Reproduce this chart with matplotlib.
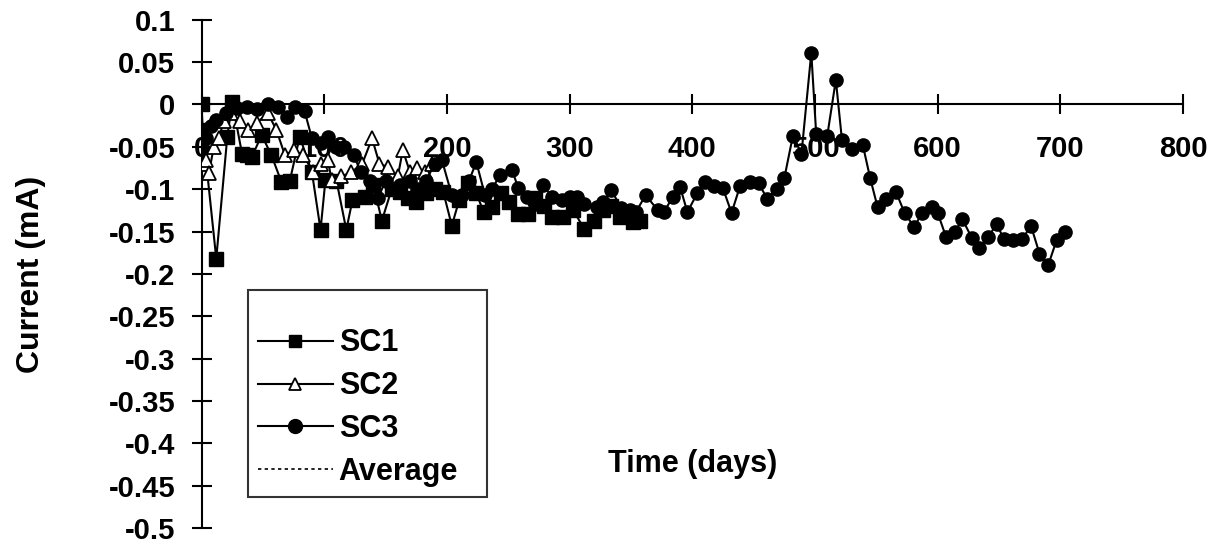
import matplotlib

matplotlib.use("Agg")
import matplotlib.pyplot as plt
from matplotlib.lines import Line2D

# Sensor current readings (mA) against exposure time (days)
SC1_DAYS = [0, 1, 12, 21, 25, 33, 37, 41, 49, 57, 65, 72, 80, 90, 97, 101, 110,
            118, 123, 133, 140, 147, 155, 162, 168, 175, 183, 190, 197, 204, 210,
            217, 224, 230, 237, 244, 251, 258, 266, 272, 279, 286, 295, 303, 312,
            320, 327, 334, 341, 348, 352, 357]
SC1_CURRENT = [0.0, -0.03, -0.182, -0.038, 0.003, -0.058, -0.06, -0.062, -0.036,
               -0.06, -0.091, -0.09, -0.038, -0.08, -0.148, -0.089, -0.09, -0.148,
               -0.113, -0.109, -0.095, -0.137, -0.1, -0.103, -0.11, -0.115, -0.105,
               -0.1, -0.103, -0.143, -0.113, -0.093, -0.105, -0.127, -0.121, -0.105,
               -0.115, -0.129, -0.129, -0.11, -0.12, -0.133, -0.133, -0.125, -0.147,
               -0.137, -0.125, -0.12, -0.133, -0.13, -0.139, -0.137]

SC2_DAYS = [2, 4, 6, 10, 14, 18, 24, 31, 38, 45, 54, 61, 68, 75, 83, 91, 97, 103,
            106, 114, 122, 131, 139, 145, 152, 160, 164, 170, 176, 182, 188]
SC2_CURRENT = [-0.07, -0.066, -0.081, -0.05, -0.04, -0.02, -0.01, -0.02, -0.03,
               -0.022, -0.01, -0.03, -0.06, -0.054, -0.06, -0.08, -0.07, -0.066,
               -0.089, -0.085, -0.08, -0.07, -0.04, -0.07, -0.074, -0.085, -0.054,
               -0.08, -0.075, -0.08, -0.07]

SC3_DAYS = [0, 4, 8, 12, 20, 29, 37, 45, 54, 62, 70, 76, 84, 90, 97, 103, 110,
            116, 124, 130, 137, 144, 150, 156, 162, 170, 176, 183, 190, 196, 204,
            212, 218, 224, 231, 237, 243, 253, 258, 265, 272, 278, 286, 294, 300,
            306, 312, 322, 327, 334, 342, 349, 354, 362, 372, 377, 384, 390, 396,
            404, 410, 418, 425, 432, 439, 447, 454, 461, 469, 475, 482, 489, 497,
            501, 510, 517, 522, 530, 539, 545, 551, 558, 566, 573, 581, 587, 595,
            600, 607, 614, 620, 628, 634, 641, 648, 654, 661, 669, 676, 683, 690,
            697, 704]
SC3_CURRENT = [-0.05, -0.04, -0.025, -0.018, -0.01, -0.004, -0.003, -0.005, 0.0,
               -0.003, -0.015, -0.003, -0.008, -0.04, -0.045, -0.038, -0.05, -0.05,
               -0.06, -0.08, -0.09, -0.11, -0.09, -0.1, -0.095, -0.09, -0.1, -0.09,
               -0.07, -0.066, -0.107, -0.107, -0.09, -0.068, -0.107, -0.1, -0.083,
               -0.077, -0.098, -0.109, -0.118, -0.095, -0.109, -0.113, -0.109,
               -0.109, -0.118, -0.121, -0.115, -0.101, -0.122, -0.125, -0.127,
               -0.107, -0.125, -0.127, -0.109, -0.097, -0.127, -0.105, -0.091,
               -0.096, -0.099, -0.128, -0.096, -0.092, -0.093, -0.111, -0.1, -0.087,
               -0.037, -0.058, 0.061, -0.035, -0.037, 0.029, -0.042, -0.052, -0.048,
               -0.087, -0.121, -0.111, -0.103, -0.128, -0.145, -0.128, -0.121,
               -0.128, -0.157, -0.151, -0.135, -0.158, -0.17, -0.157, -0.141,
               -0.159, -0.16, -0.159, -0.143, -0.176, -0.19, -0.16, -0.15]

X_TICKS = [0, 100, 200, 300, 400, 500, 600, 700, 800]
Y_TICKS = [0.1, 0.05, 0, -0.05, -0.1, -0.15, -0.2, -0.25, -0.3, -0.35, -0.4,
           -0.45, -0.5]
Y_TICK_LABELS = ["0.1", "0.05", "0", "-0.05", "-0.1", "-0.15", "-0.2", "-0.25",
                 "-0.3", "-0.35", "-0.4", "-0.45", "-0.5"]

FONT = "Liberation Sans"
TICK_SIZE = 21
LEGEND_SIZE = 22
LABEL_SIZE = 22
LINE_WIDTH = 1.5

plt.rcParams["font.family"] = [FONT, "DejaVu Sans"]
plt.rcParams["font.weight"] = "bold"
plt.rcParams["axes.unicode_minus"] = False

fig = plt.figure(figsize=(12.17, 5.5), dpi=100, facecolor="white")
ax = fig.add_axes([0.1656, 0.04, 0.8065, 0.924])

ax.plot(SC1_DAYS, SC1_CURRENT, color="black", lw=LINE_WIDTH, marker="s",
        markersize=9.5, markerfacecolor="black", markeredgecolor="black", zorder=3)
ax.plot(SC2_DAYS, SC2_CURRENT, color="black", lw=LINE_WIDTH, marker="^",
        markersize=10, markerfacecolor="white", markeredgecolor="black",
        markeredgewidth=1.3, zorder=4)
ax.plot(SC3_DAYS, SC3_CURRENT, color="black", lw=LINE_WIDTH, marker="o",
        markersize=9.5, markerfacecolor="black", markeredgecolor="black", zorder=5)

ax.set_xlim(0, 800)
ax.set_ylim(-0.5, 0.1)

# axes cross at the origin, Excel style
ax.spines["top"].set_visible(False)
ax.spines["right"].set_visible(False)
ax.spines["bottom"].set_position(("data", 0))
for side in ("left", "bottom"):
    ax.spines[side].set_linewidth(1.5)
    ax.spines[side].set_zorder(2.6)

ax.set_xticks(X_TICKS)
ax.set_xticklabels([str(t) for t in X_TICKS])
ax.set_yticks(Y_TICKS)
ax.set_yticklabels(Y_TICK_LABELS)
ax.tick_params(axis="both", direction="inout", length=14, width=1.5,
               labelsize=TICK_SIZE, colors="black")
ax.tick_params(axis="x", pad=15)
ax.tick_params(axis="y", pad=12)
for lab in ax.get_xticklabels() + ax.get_yticklabels():
    lab.set_fontweight("bold")

ax.set_ylabel("Current (mA)", fontsize=23, fontweight="bold")
ax.yaxis.set_label_coords(-0.158, 0.5)
ax.text(0.5, 0.126, "Time (days)", transform=ax.transAxes, ha="center",
        va="center", fontsize=LABEL_SIZE, fontweight="bold")

handles = [
    Line2D([], [], color="black", lw=LINE_WIDTH, marker="s", markersize=9),
    Line2D([], [], color="black", lw=LINE_WIDTH, marker="^", markersize=9,
           markerfacecolor="white", markeredgewidth=1.3),
    Line2D([], [], color="black", lw=LINE_WIDTH, marker="o", markersize=10),
    Line2D([], [], color="black", lw=1.2, linestyle=(0, (2, 2))),
]
legend = ax.legend(handles, ["SC1", "SC2", "SC3", "Average"], loc="lower left",
                   bbox_to_anchor=(0.047, 0.061, 0.2435, 0.41), mode="expand",
                   frameon=True, fancybox=False, edgecolor="black",
                   fontsize=LEGEND_SIZE, title=" ", title_fontsize=12,
                   handlelength=2.45, handletextpad=0.2, labelspacing=0.42,
                   borderpad=0.33, borderaxespad=0)
legend.get_frame().set_linewidth(1.5)
for txt in legend.get_texts():
    txt.set_fontweight("bold")

fig.savefig("out.png", dpi=100, facecolor="white")
